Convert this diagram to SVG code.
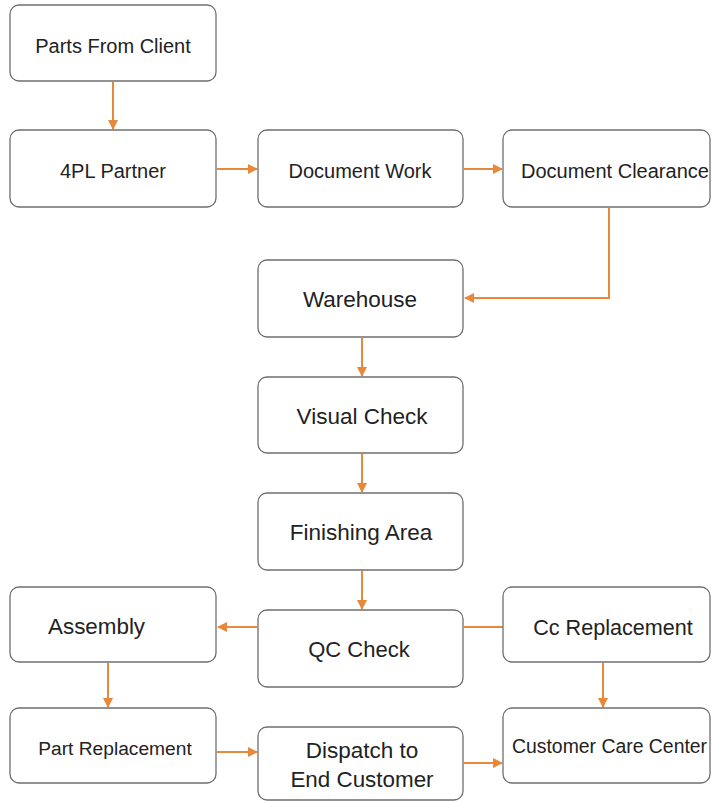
<svg xmlns="http://www.w3.org/2000/svg" width="712" height="801" viewBox="0 0 712 801">
  <style>
    .box { fill: #ffffff; stroke: #6f6f6f; stroke-width: 1.3; }
    .lbl { font-family: "Liberation Sans", Arial, sans-serif; fill: #222222; }
    .c { text-anchor: middle; }
    .link { fill: none; stroke: #e8883a; stroke-width: 2; }
  </style>
  <defs>
    <marker id="arrow" viewBox="0 0 10 10" refX="9" refY="5" markerWidth="5" markerHeight="5" orient="auto" markerUnits="strokeWidth">
      <path d="M0,0 L10,5 L0,10 z" fill="#e8883a"/>
    </marker>
  </defs>
  <rect width="712" height="801" fill="#ffffff"/>

  <!-- connectors -->
  <g id="connectors">
    <path class="link" d="M113,82 V129" marker-end="url(#arrow)"/>
    <path class="link" d="M217,169 H257" marker-end="url(#arrow)"/>
    <path class="link" d="M464,169 H502" marker-end="url(#arrow)"/>
    <path class="link" d="M609,208 V298 H465" marker-end="url(#arrow)"/>
    <path class="link" d="M362,338 V376" marker-end="url(#arrow)"/>
    <path class="link" d="M362,454 V492" marker-end="url(#arrow)"/>
    <path class="link" d="M362,571 V609" marker-end="url(#arrow)"/>
    <path class="link" d="M257,627 H218" marker-end="url(#arrow)"/>
    <path class="link" d="M464,627 H503"/>
    <path class="link" d="M603,663 V707" marker-end="url(#arrow)"/>
    <path class="link" d="M108,663 V707" marker-end="url(#arrow)"/>
    <path class="link" d="M217,752 H257" marker-end="url(#arrow)"/>
    <path class="link" d="M464,763 H502" marker-end="url(#arrow)"/>
  </g>

  <g id="parts-from-client">
    <rect class="box" x="10" y="5" width="206" height="76" rx="9"/>
    <text class="lbl c" x="113" y="53" font-size="20">Parts From Client</text>
  </g>
  <g id="partner-4pl">
    <rect class="box" x="10" y="130" width="206" height="77" rx="9"/>
    <text class="lbl c" x="113" y="178" font-size="20">4PL Partner</text>
  </g>
  <g id="document-work">
    <rect class="box" x="258" y="130" width="205" height="77" rx="9"/>
    <text class="lbl c" x="360" y="178" font-size="20">Document Work</text>
  </g>
  <g id="document-clearance">
    <rect class="box" x="503" y="130" width="207" height="77" rx="9"/>
    <text class="lbl" x="521" y="178" font-size="20">Document Clearance</text>
  </g>
  <g id="warehouse">
    <rect class="box" x="258" y="260" width="205" height="77" rx="9"/>
    <text class="lbl c" x="360" y="307" font-size="22.5">Warehouse</text>
  </g>
  <g id="visual-check">
    <rect class="box" x="258" y="377" width="205" height="76" rx="9"/>
    <text class="lbl c" x="362" y="424" font-size="22.5">Visual Check</text>
  </g>
  <g id="finishing-area">
    <rect class="box" x="258" y="493" width="205" height="77" rx="9"/>
    <text class="lbl c" x="361" y="540" font-size="22.5">Finishing Area</text>
  </g>
  <g id="qc-check">
    <rect class="box" x="258" y="610" width="205" height="77" rx="9"/>
    <text class="lbl c" x="359" y="657" font-size="22">QC Check</text>
  </g>
  <g id="assembly">
    <rect class="box" x="10" y="587" width="206" height="75" rx="9"/>
    <text class="lbl" x="48" y="634" font-size="22.4">Assembly</text>
  </g>
  <g id="cc-replacement">
    <rect class="box" x="503" y="587" width="207" height="75" rx="9"/>
    <text class="lbl c" x="613" y="635" font-size="21.6">Cc Replacement</text>
  </g>
  <g id="part-replacement">
    <rect class="box" x="10" y="708" width="206" height="75" rx="9"/>
    <text class="lbl c" x="115" y="755" font-size="19.2">Part Replacement</text>
  </g>
  <g id="dispatch">
    <rect class="box" x="258" y="727" width="205" height="73" rx="9"/>
    <text class="lbl c" x="362" y="758" font-size="22.5">Dispatch to</text>
    <text class="lbl c" x="362" y="787" font-size="22.4">End Customer</text>
  </g>
  <g id="customer-care-center">
    <rect class="box" x="503" y="708" width="207" height="75" rx="9"/>
    <text class="lbl" x="512" y="753" font-size="19.4">Customer Care Center</text>
  </g>
</svg>
